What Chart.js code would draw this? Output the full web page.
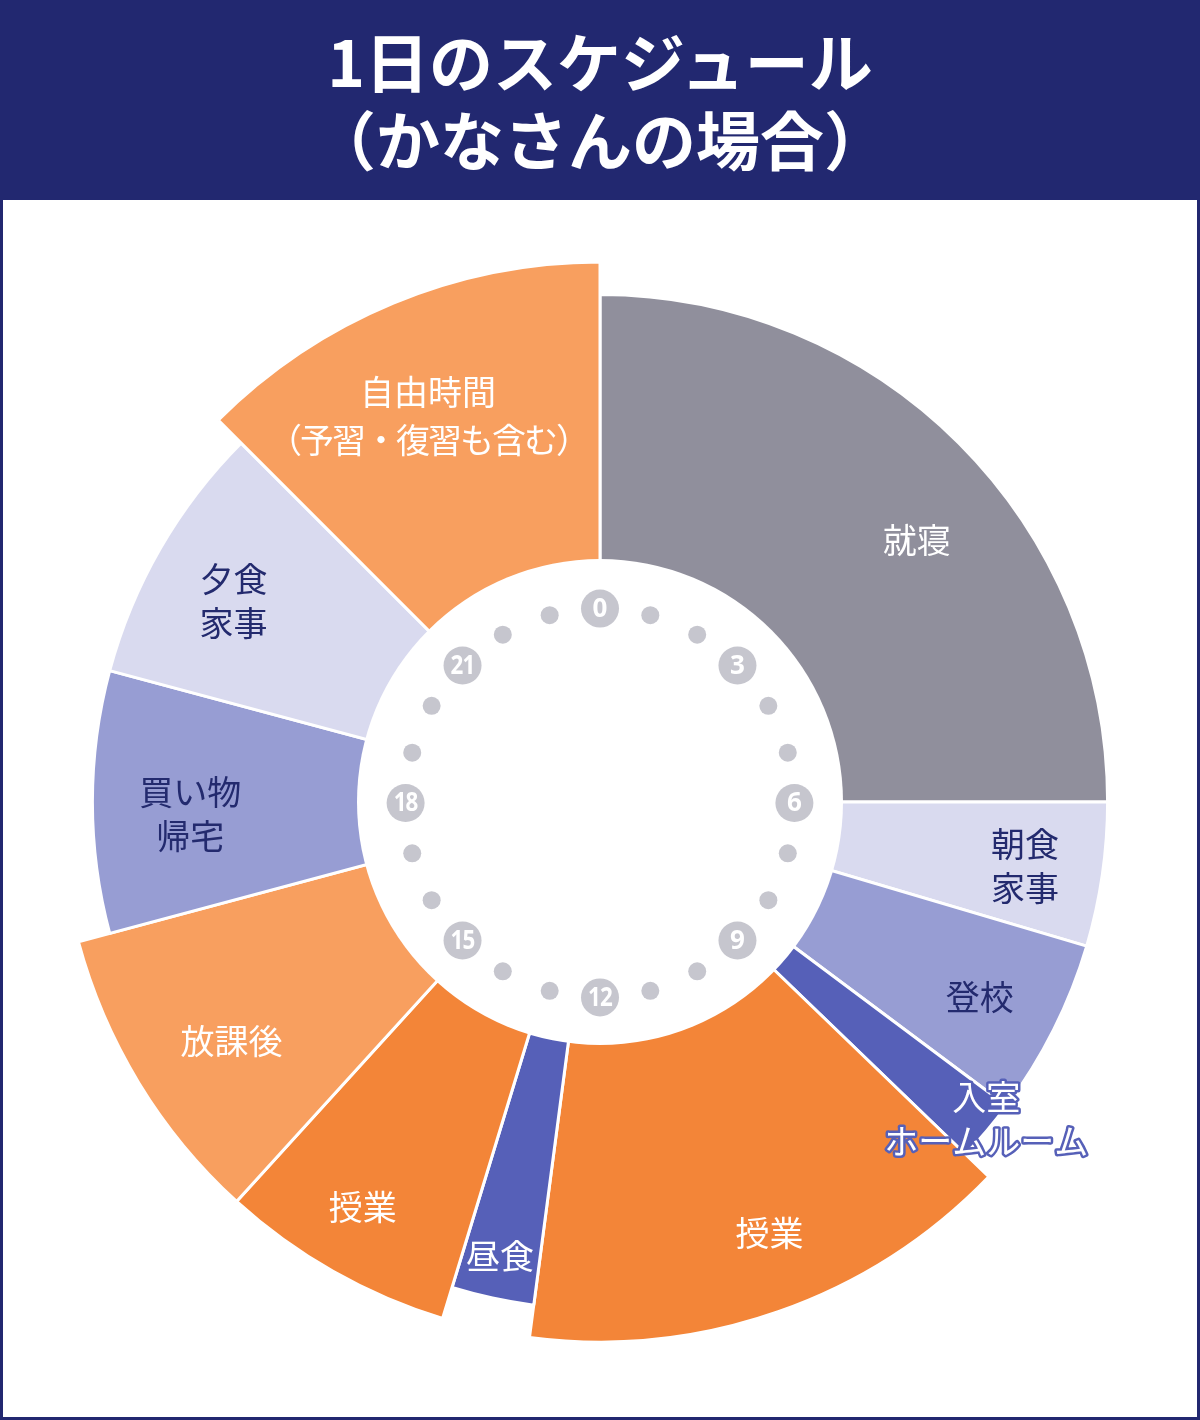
<!DOCTYPE html>
<html>
<head>
<meta charset="utf-8">
<script src="https://cdn.jsdelivr.net/npm/chart.js@4.4.1/dist/chart.umd.min.js"></script>
<style>
  html, body { margin: 0; padding: 0; background: #ffffff; }
  #page { position: relative; width: 1200px; height: 1420px; background: #222870; overflow: hidden; }
  #title { position: absolute; left: 0; top: 20px; width: 1200px; color: #ffffff;
           font-family: "Noto Sans CJK JP", "Noto Sans", sans-serif; font-weight: 700;
           font-size: 64px; line-height: 78px; text-align: center; }
  #panel { position: absolute; left: 3px; top: 200px; width: 1194px; height: 1217px; background: #ffffff; }
  canvas { display: block; }
</style>
</head>
<body>
<div id="page">
  <div id="title">1日のスケジュール<br>（かなさんの場合）</div>
  <div id="panel"><canvas id="chart" width="1194" height="1217"></canvas></div>
</div>
<script>
// ---------- data ----------
const activities = [
  ['就寝'],
  ['朝食', '家事'],
  ['登校'],
  ['入室', 'ホームルーム'],
  ['授業'],
  ['昼食'],
  ['授業'],
  ['放課後'],
  ['買い物', '帰宅'],
  ['夕食', '家事'],
  ['自由時間', '（予習・復習も含む）']
];
const startHours = [0, 6, 7.1, 8.45, 8.93, 12.5, 13.13, 14.82, 17, 19, 21];
const ringLevel  = [94, 94, 94, 94, 100, 94, 100, 100, 94, 94, 100];
const dialHours = [0, 1, 2, 3, 4, 5, 6, 7, 8, 9, 10, 11, 12, 13, 14, 15, 16, 17, 18, 19, 20, 21, 22, 23];
const dialNumbered = [0, 3, 6, 9, 12, 15, 18, 21];

// ---------- styles ----------
const fillColors = ['#908f9c', '#d9daef', '#979dd3', '#5660b8', '#f38538', '#5660b8',
                    '#f38538', '#f89f5f', '#979dd3', '#d9daef', '#f89f5f'];
const textColors = ['#ffffff', '#232a6e', '#232a6e', '#ffffff', '#ffffff', '#ffffff',
                    '#ffffff', '#ffffff', '#232a6e', '#232a6e', '#ffffff'];
const labelLayout = [
  { r: 0.761, nudge: 5.4 },
  { r: 0.796, nudge: 0.3 },
  { r: 0.791, nudge: 0.6 },
  { r: 0.925, nudge: -1.0, outline: '#5660b8' },
  { r: 0.857, nudge: -2.2 },
  { r: 0.861, nudge: 0.2 },
  { r: 0.870, nudge: 0.7 },
  { r: 0.813, nudge: -1.6 },
  { r: 0.759, nudge: -1.7 },
  { r: 0.774, nudge: -1.3 },
  { r: 0.783, nudge: -1.5, lineHeight: 48, secondSpacing: -2 }
];

const durationDeg = startHours.map((h, i) => ((i + 1 < startHours.length ? startHours[i + 1] : 24) - h) * 15);

const dialPlugin = {
  id: 'dialAndLabels',
  afterDatasetsDraw(chart, args, opts) {
    const ctx = chart.ctx;
    const scale = chart.scales.r;
    const cx = scale.xCenter, cy = scale.yCenter, R = scale.drawingArea;
    ctx.save();
    // center hole
    ctx.fillStyle = '#ffffff';
    ctx.beginPath();
    ctx.arc(cx, cy, R * opts.hole, 0, Math.PI * 2);
    ctx.fill();
    // clock dial
    const dr = R * opts.dial;
    dialHours.forEach(h => {
      const a = h / 24 * Math.PI * 2 - Math.PI / 2;
      const x = cx + dr * Math.cos(a), y = cy + 1 + dr * Math.sin(a);
      ctx.fillStyle = '#c6c6ce';
      ctx.beginPath();
      if (dialNumbered.includes(h)) {
        ctx.arc(x, y, 19, 0, Math.PI * 2);
        ctx.fill();
        ctx.fillStyle = '#ffffff';
        ctx.font = '700 26px "Open Sans", "DejaVu Sans", sans-serif';
        ctx.textAlign = 'center';
        ctx.textBaseline = 'middle';
        const s = String(h);
        ctx.save();
        ctx.translate(x, y + 1);
        if (s.length > 1) ctx.scale(0.86, 1);
        ctx.letterSpacing = s.length > 1 ? '-1px' : '0px';
        ctx.fillText(s, 0, 0);
        ctx.restore();
      } else {
        ctx.arc(x, y, 9, 0, Math.PI * 2);
        ctx.fill();
      }
    });
    // activity labels
    const meta = chart.getDatasetMeta(0);
    meta.data.forEach((arc, i) => {
      const lay = labelLayout[i];
      const a = (arc.startAngle + arc.endAngle) / 2 + lay.nudge * Math.PI / 180;
      const x = cx + R * lay.r * Math.cos(a), y = cy + R * lay.r * Math.sin(a);
      const lines = activities[i];
      const lh = lay.lineHeight || 44;
      ctx.font = '400 34px "Noto Sans CJK JP", sans-serif';
      ctx.textAlign = 'center';
      ctx.textBaseline = 'middle';
      lines.forEach((t, k) => {
        const ly = y + (k - (lines.length - 1) / 2) * lh;
        ctx.letterSpacing = (k > 0 && lay.secondSpacing) ? lay.secondSpacing + 'px' : '0px';
        if (lay.outline) {
          ctx.strokeStyle = lay.outline;
          ctx.lineWidth = 5;
          ctx.lineJoin = 'round';
          ctx.strokeText(t, x, ly);
        }
        ctx.fillStyle = textColors[i];
        ctx.fillText(t, x, ly);
      });
    });
    ctx.letterSpacing = '0px';
    ctx.restore();
  }
};

new Chart(document.getElementById('chart'), {
  type: 'polarArea',
  data: {
    labels: activities.map(l => l.join('')),
    datasets: [{
      data: ringLevel,
      backgroundColor: fillColors,
      borderColor: '#ffffff',
      borderWidth: 3,
      angle: (c) => durationDeg[c.dataIndex]
    }]
  },
  options: {
    responsive: false,
    animation: false,
    events: [],
    layout: { padding: { left: 57, right: 57, top: 62, bottom: 75 } },
    scales: {
      r: {
        min: 0, max: 100,
        startAngle: 0,
        ticks: { display: false },
        grid: { display: false },
        angleLines: { display: false },
        pointLabels: { display: false }
      }
    },
    plugins: {
      legend: { display: false },
      tooltip: { enabled: false },
      dialAndLabels: { hole: 0.45, dial: 0.36 }
    }
  },
  plugins: [dialPlugin]
});
</script>
</body>
</html>
